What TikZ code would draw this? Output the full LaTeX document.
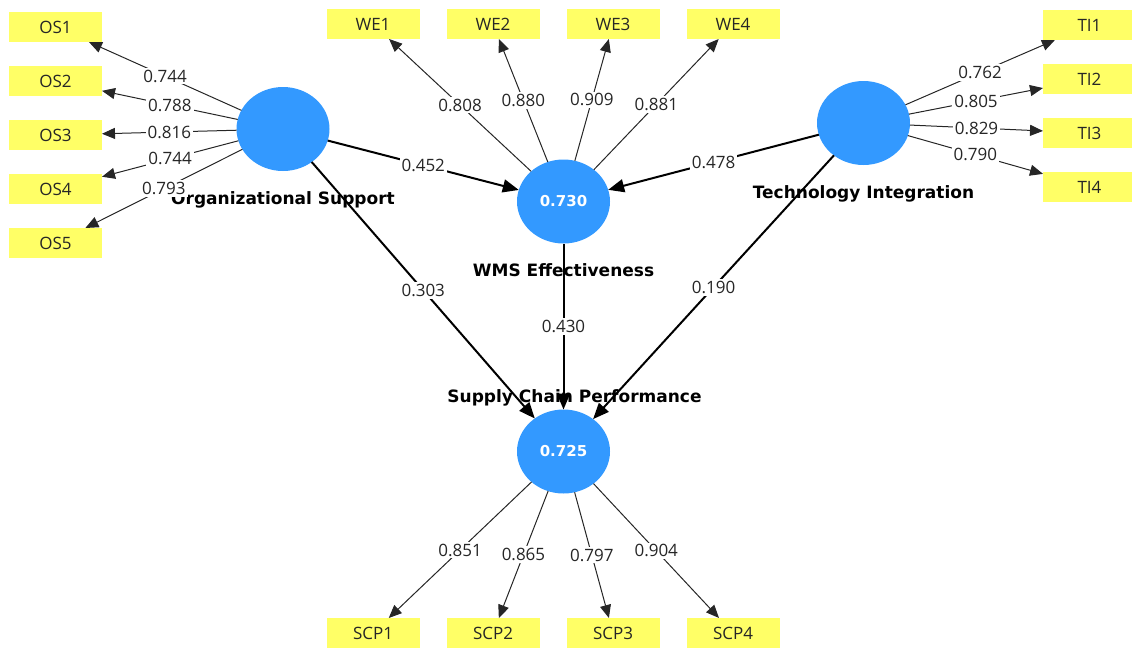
\documentclass[tikz,border=0pt]{standalone}
\usepackage{fontspec}
\setmainfont{Open Sans}
\newfontfamily\latentfont{DejaVu Sans}
\usepackage{tkz-graph}
\usetikzlibrary{arrows.meta,shapes.geometric}
\definecolor{latentblue}{RGB}{51,153,255}
\definecolor{itemyellow}{RGB}{255,255,102}

\begin{document}
\begin{tikzpicture}[x=1pt,y=-1pt,font=\fontsize{17}{20}\selectfont]

\GraphInit[vstyle=Normal]
\tikzset{
  VertexStyle/.style={inner sep=0pt},
  EdgeStyle/.style={},
  Item/.style={shape=rectangle, fill=itemyellow, text=black!85, minimum width=93pt, minimum height=30pt},
  Loading/.style={-{Triangle[length=13pt,width=11pt]}, draw=black!85, line width=1pt},
  LabelStyle/.style={fill=white, text=black!85, inner sep=2pt},
  Latent/.style={shape=ellipse, fill=latentblue, minimum width=93pt, minimum height=84pt},
  Path/.style={-{Triangle[length=16pt,width=13pt]}, draw=black, line width=2pt},
  every label/.style={font=\latentfont\bfseries\fontsize{17}{20}\selectfont, text=black, inner sep=0pt},
  Name/.style={label distance=20pt},
  Value/.style={font=\latentfont\bfseries\fontsize{15}{18}\selectfont, text=white}
}
\useasboundingbox (0,0) rectangle (1132,651);

\Vertex[x=55.5, y=27, L=OS1, style={Item}]{os1};
\Vertex[x=55.5, y=81, L=OS2, style={Item}]{os2};
\Vertex[x=55.5, y=135, L=OS3, style={Item}]{os3};
\Vertex[x=55.5, y=189, L=OS4, style={Item}]{os4};
\Vertex[x=55.5, y=243, L=OS5, style={Item}]{os5};
\Vertex[x=373, y=24, L=WE1, style={Item}]{we1};
\Vertex[x=493, y=24, L=WE2, style={Item}]{we2};
\Vertex[x=613, y=24, L=WE3, style={Item}]{we3};
\Vertex[x=733, y=24, L=WE4, style={Item}]{we4};
\Vertex[x=1089.5, y=25, L=TI1, style={Item}]{ti1};
\Vertex[x=1089.5, y=79, L=TI2, style={Item}]{ti2};
\Vertex[x=1089.5, y=133, L=TI3, style={Item}]{ti3};
\Vertex[x=1089.5, y=187, L=TI4, style={Item}]{ti4};
\Vertex[x=373, y=633, L=SCP1, style={Item}]{scp1};
\Vertex[x=493, y=633, L=SCP2, style={Item}]{scp2};
\Vertex[x=613, y=633, L=SCP3, style={Item}]{scp3};
\Vertex[x=733, y=633, L=SCP4, style={Item}]{scp4};

\Vertex[NoLabel=true, x=283, y=129, style={Latent, label={[Name]below:Organizational Support}}]{os};
\Vertex[NoLabel=true, x=563.5, y=201.5, style={Latent, label={[Value]center:0.730}, label={[Name]below:WMS Effectiveness}}]{we};
\Vertex[NoLabel=true, x=863.5, y=123, style={Latent, label={[Name]below:Technology Integration}}]{ti};
\Vertex[NoLabel=true, x=563.5, y=451.5, style={Latent, label={[Value]center:0.725}, label={[xshift=11pt, label distance=3pt]above:Supply Chain Performance}}]{scp};

\Edge[style={Loading}, label={0.744}](os)(os1)
\Edge[style={Loading}, label={0.788}](os)(os2)
\Edge[style={Loading}, label={0.816}](os)(os3)
\Edge[style={Loading}, label={0.744}](os)(os4)
\Edge[style={Loading}, label={0.793}](os)(os5)
\Edge[style={Loading}, label={0.808}](we)(we1)
\Edge[style={Loading}, label={0.880}](we)(we2)
\Edge[style={Loading}, label={0.909}](we)(we3)
\Edge[style={Loading}, label={0.881}](we)(we4)
\Edge[style={Loading}, label={0.762}](ti)(ti1)
\Edge[style={Loading}, label={0.805}](ti)(ti2)
\Edge[style={Loading}, label={0.829}](ti)(ti3)
\Edge[style={Loading}, label={0.790}](ti)(ti4)
\Edge[style={Loading}, label={0.851}](scp)(scp1)
\Edge[style={Loading}, label={0.865}](scp)(scp2)
\Edge[style={Loading}, label={0.797}](scp)(scp3)
\Edge[style={Loading}, label={0.904}](scp)(scp4)

\Edge[style={Path}, label={0.452}](os)(we)
\Edge[style={Path}, label={0.478}](ti)(we)
\Edge[style={Path}, label={0.303}](os)(scp)
\Edge[style={Path}, label={0.430}](we)(scp)
\Edge[style={Path}, label={0.190}](ti)(scp)

\end{tikzpicture}
\end{document}
